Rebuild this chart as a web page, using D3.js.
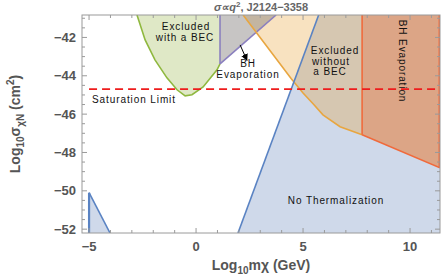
<!DOCTYPE html>
<html><head><meta charset="utf-8">
<script src="https://cdn.jsdelivr.net/npm/d3@7"></script>
<style>body{margin:0;background:#fff}svg{display:block;font-family:"Liberation Sans",Arial,sans-serif}</style>
</head><body><svg id="c" width="443" height="277"></svg>
<script>
// ---- data (log10 m in GeV, log10 sigma in cm^2) ----
const xTicks = [-5, 0, 5, 10];
const yTicks = [-42, -44, -46, -48, -50, -52];
const greenCurve = [[-2.76,-40.83],[-2.38,-42.13],[-1.92,-43.17],[-1.36,-44.11],[-0.89,-44.73],[-0.51,-45.05],[-0.19,-44.99],[0.33,-44.58],[0.98,-43.69],[1.12,-43.38]];
const purpleVert = [[1.12,-40.83],[1.12,-43.38]];
const purpleDiag = [[1.12,-43.38],[3.74,-40.83]];
const orangeCurve = [[2.2,-40.83],[4.45,-44.15],[5.0,-44.9],[5.5,-45.5],[5.93,-46.04],[6.73,-46.66],[7.76,-47.08]];
const blueLine = [[1.96,-52.2],[5.73,-40.83]];
const redVert = [[7.76,-40.83],[7.76,-47.08]];
const redLine = [[7.76,-47.08],[11.4,-48.8]];
const blueTri = [[-5,-50.1],[-5,-52.2],[-4.02,-52.2]];
const saturation = -44.7;
const arrowPts = [[2.06,-42.39],[2.38,-43.2]];

const svg = d3.select("#c");
const L=82,R=440,T=15,B=233;
const X0=-5.33,X1=11.4,Y0=-52.2,Y1=-40.83;
const x = d3.scaleLinear().domain([X0,X1]).range([L,R]);
const y = d3.scaleLinear().domain([Y0,Y1]).range([B,T]);
const line = d3.line().x(d=>x(d[0])).y(d=>y(d[1]));

svg.append("defs").append("clipPath").attr("id","clip").append("rect").attr("x",L).attr("y",T).attr("width",R-L).attr("height",B-T);
svg.select("defs").append("marker").attr("id","ah").attr("viewBox","0 0 10 10").attr("refX",9).attr("refY",5)
  .attr("markerWidth",7).attr("markerHeight",8).attr("orient","auto").attr("markerUnits","userSpaceOnUse")
  .append("path").attr("d","M0,0L10,5L0,10Z").attr("fill","#000");
const g = svg.append("g").attr("clip-path","url(#clip)");

// blue region (right of blue line)
g.append("path").attr("d", line([blueLine[0],blueLine[1],[X1,Y1],[X1,Y0]])+"Z").attr("fill","#cfd9ea");
g.append("path").attr("d", line(blueTri)+"Z").attr("fill","#cfd9ea");
// green region
g.append("path").attr("d", line(greenCurve.concat([[1.12,Y1]]))+"Z").attr("fill","#dfe8c6");
// orange region
g.append("path").attr("d", line(orangeCurve.concat([[7.76,Y1]]))+"Z").attr("fill","rgba(231,155,38,0.29)");
// gray BH evaporation region
g.append("path").attr("d", line([[1.12,Y1],[1.12,-43.38],[3.74,Y1]])+"Z").attr("fill","rgba(130,126,124,0.45)");
// red region
g.append("path").attr("d", line([[7.76,Y1],[7.76,-47.08],[X1,-48.8],[X1,Y1]])+"Z").attr("fill","#dca586");

// boundary lines
const st=(d,c,w)=>g.append("path").attr("d",line(d)).attr("fill","none").attr("stroke",c).attr("stroke-width",w||1.6);
st(greenCurve,"#8fb83f");
st(purpleVert,"#8b80bf"); st(purpleDiag,"#8b80bf");
st(orangeCurve,"#e8a640");
st(blueLine,"#5a83c3");
st(blueTri.slice(0,2),"#5a83c3",2.2); st([blueTri[0],blueTri[2]],"#5a83c3");
st(redVert,"#f06a3c"); st(redLine,"#f06a3c"); st([[X1-0.03,Y1],[X1-0.03,-48.8]],"#f06a3c");
// saturation
g.append("line").attr("x1",x(-5)).attr("x2",R).attr("y1",y(saturation)).attr("y2",y(saturation))
  .attr("stroke","#ee1c1c").attr("stroke-width",1.8).attr("stroke-dasharray","8,5");
// arrow
svg.append("path").attr("d",line(arrowPts)).attr("stroke","#000").attr("stroke-width",1).attr("marker-end","url(#ah)");

// frame
svg.append("rect").attr("x",L).attr("y",T).attr("width",R-L).attr("height",B-T).attr("fill","none").attr("stroke","#9a9a9a").attr("stroke-width",1);
const tk = svg.append("g").attr("stroke","#9a9a9a").attr("stroke-width",1);
d3.range(-5,12,1).forEach(v=>{const maj=v%5===0,len=maj?5:3;
  tk.append("line").attr("x1",x(v)).attr("x2",x(v)).attr("y1",B).attr("y2",B-len);
  tk.append("line").attr("x1",x(v)).attr("x2",x(v)).attr("y1",T).attr("y2",T+len);});
d3.range(-52,-40.8,0.5).forEach(v=>{const maj=Math.abs(v%2)<1e-9,len=maj?5:3;
  tk.append("line").attr("y1",y(v)).attr("y2",y(v)).attr("x1",L).attr("x2",L+len);
  tk.append("line").attr("y1",y(v)).attr("y2",y(v)).attr("x1",R).attr("x2",R-len);});
const fmt=v=>(v<0?"\u2212":"")+Math.abs(v);
svg.append("g").selectAll("text").data(xTicks).join("text").attr("x",d=>x(d)).attr("y",B+18)
  .attr("text-anchor","middle").attr("font-size",13).attr("font-weight","bold").attr("fill","#555").text(fmt);
svg.append("g").selectAll("text").data(yTicks).join("text").attr("x",L-6).attr("y",d=>y(d)+4.5)
  .attr("text-anchor","end").attr("font-size",13).attr("font-weight","bold").attr("fill","#555").text(fmt);

// axis labels
const xl = svg.append("text").attr("x",261).attr("y",270).attr("text-anchor","middle").attr("font-size",14).attr("font-weight","bold").attr("fill","#555");
xl.append("tspan").text("Log");
xl.append("tspan").attr("font-size",10).attr("dy",4).text("10");
xl.append("tspan").attr("dy",-4).text("m\u03c7 (GeV)");
const yl = svg.append("text").attr("transform","translate(20,124) rotate(-90)").attr("text-anchor","middle").attr("font-size",14).attr("font-weight","bold").attr("fill","#555");
yl.append("tspan").text("Log");
yl.append("tspan").attr("font-size",10).attr("dy",4).text("10");
yl.append("tspan").attr("dy",-4).text("\u03c3");
yl.append("tspan").attr("font-size",10).attr("dy",4).text("\u03c7N");
yl.append("tspan").attr("dy",-4).text(" (cm");
yl.append("tspan").attr("font-size",10).attr("dy",-6).text("2");
yl.append("tspan").attr("dy",6).text(")");
// title
const tt = svg.append("text").attr("x",261).attr("y",11).attr("text-anchor","middle").attr("font-size",11).attr("font-weight","bold").attr("fill","#666");
tt.append("tspan").attr("font-style","italic").text("\u03c3\u221dq");
tt.append("tspan").attr("font-size",8).attr("dy",-4).text("2");
tt.append("tspan").attr("dy",4).text(", J2124\u22123358");

// region labels
const lab=(t,px,py,anchor)=>svg.append("text").attr("x",px).attr("y",py).attr("text-anchor",anchor||"middle")
  .attr("font-size",10).attr("letter-spacing",0.9).attr("fill","#111").text(t);
lab("Excluded",186,29.5); lab("with a BEC",185,40.5);
lab("BH",248,66.5); lab("Evaporation",248,77.5);
lab("Excluded",335,54); lab("without",331,64.5); lab("a BEC",330,75);
lab("Saturation Limit",134,103);
lab("No Thermalization",336,204);
svg.append("text").attr("transform","translate(399,61) rotate(90)").attr("text-anchor","middle")
  .attr("font-size",10).attr("letter-spacing",0.9).attr("fill","#111").text("BH Evaporation");
</script></body></html>
